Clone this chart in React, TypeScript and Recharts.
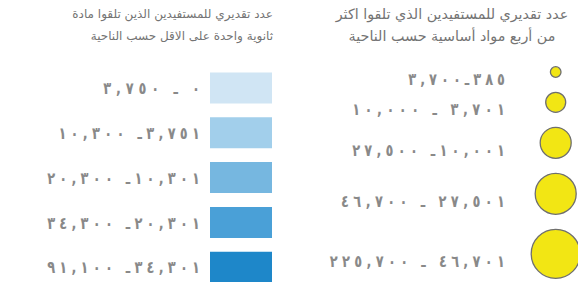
import { BarChart, Bar, Cell, XAxis, YAxis, ScatterChart, Scatter } from "recharts";

// left legend: shaded swatches
const fillTitle = ["عدد تقديري للمستفيدين الذين تلقوا مادة", "ثانوية واحدة على الاقل حسب الناحية"];
const fillRanges = ["٠ ـ ٣,٧٥٠", "٣,٧٥١ـ ١٠,٣٠٠", "١٠,٣٠١ـ ٢٠,٣٠٠", "٢٠,٣٠١ـ ٣٤,٣٠٠", "٣٤,٣٠١ـ ٩١,١٠٠"];
const fillSwatch = [1, 1, 1, 1, 1];

// right legend: proportional circles
const bubbleTitle = ["عدد تقديري للمستفيدين الذي تلقوا اكثر", "من أربع مواد أساسية حسب الناحية"];
const bubbleRanges = ["٣٨٥ـ٣,٧٠٠", "٣,٧٠١ ـ ١٠,٠٠٠", "١٠,٠٠١ـ ٢٧,٥٠٠", "٢٧,٥٠١ ـ ٤٦,٧٠٠", "٤٦,٧٠١ ـ ٢٢٥,٧٠٠"];
const bubbleClass = [1, 2, 3, 4, 5];

const BLUES = ["#d0e5f4", "#a2cfeb", "#76b7e0", "#4aa0d7", "#1e87c9"];
const RADII = [5.3, 10, 15.5, 20.5, 24.5];
const FIRST_CENTER = 72;
const ROW_GAP = 15;
const CHAR_W = 11.2; // wide tracking of the range labels
const STRETCH = 1.28; // digits in the original are tall

const centers: number[] = [];
RADII.forEach((r, i) => {
  centers.push(i === 0 ? FIRST_CENTER : centers[i - 1] + RADII[i - 1] + r + ROW_GAP);
});

const fillData = fillRanges.map((label, i) => ({ label, v: fillSwatch[i] }));
const bubbleData = bubbleRanges.map((label, i) => ({ label, cls: bubbleClass[i], x: 1, y: centers[i] }));

const FONT = "'DejaVu Sans', sans-serif";
const TEXT = "#898989";

// css letter-spacing is ignored for arabic digits, so stretch with textLength
const rangeText = (label: string, x: number, y: number, dy: number) => (
  <g transform={`translate(${x} ${y + dy}) scale(1 ${STRETCH})`}>
    <text
      x={0}
      y={0}
      textAnchor="end"
      fill={TEXT}
      fontFamily={FONT}
      fontWeight="bold"
      fontSize={13}
      textLength={label.length * CHAR_W - 4}
      lengthAdjust="spacing"
    >
      {label}
    </text>
  </g>
);

const FillTick = (p: any) => rangeText(fillRanges[p.index], p.x, p.y, 6.3);
const BubbleTick = (p: any) => rangeText(bubbleRanges[p.index], p.x, p.y, 12.8);

const titleStyle = {
  position: "absolute" as const,
  top: 3,
  direction: "rtl" as const,
  fontFamily: FONT,
  lineHeight: "22px",
  color: "#747474",
  whiteSpace: "nowrap" as const,
};

export default function App() {
  return (
    <div style={{ position: "absolute", left: 0, top: 0, width: 578, height: 282, overflow: "hidden", background: "#fff" }}>
      <div style={{ ...titleStyle, fontSize: 12, right: 578 - 273, textAlign: "right" }}>
        {fillTitle.map((t) => <div key={t}>{t}</div>)}
      </div>
      <div style={{ ...titleStyle, fontSize: 14.3, left: 302, width: 300, textAlign: "center" }}>
        {bubbleTitle.map((t) => <div key={t}>{t}</div>)}
      </div>

      <div style={{ position: "absolute", left: 0, top: 0 }}>
        <BarChart
          width={272}
          height={290}
          layout="vertical"
          data={fillData}
          margin={{ top: 65.6, right: 0, bottom: 0.6, left: 0 }}
        >
          <XAxis type="number" hide domain={[0, 1]} />
          <YAxis
            type="category"
            dataKey="label"
            width={210}
            axisLine={false}
            tickLine={false}
            tickSize={0}
            tickMargin={10}
            interval={0}
            tick={FillTick}
          />
          <Bar dataKey="v" barSize={31} isAnimationActive={false}>
            {fillData.map((_, i) => (
              <Cell key={i} fill={BLUES[i]} />
            ))}
          </Bar>
        </BarChart>
      </div>

      <div style={{ position: "absolute", left: 290, top: 0 }}>
        <ScatterChart width={288} height={282} margin={{ top: 0, right: 22.3, bottom: 0, left: 0 }}>
          <XAxis type="number" dataKey="x" hide domain={[0, 1]} />
          <YAxis
            type="number"
            dataKey="y"
            domain={[0, 282]}
            reversed
            ticks={centers}
            width={225}
            axisLine={false}
            tickLine={false}
            tickSize={0}
            tickMargin={10}
            interval={0}
            tick={BubbleTick}
          />
          <Scatter
            data={bubbleData}
            isAnimationActive={false}
            shape={(p: any) => (
              <circle
                cx={p.cx}
                cy={p.cy}
                r={RADII[p.payload.cls - 1]}
                fill="#f2e614"
                stroke="#6f6f6f"
                strokeWidth={1.3}
              />
            )}
          />
        </ScatterChart>
      </div>
    </div>
  );
}
